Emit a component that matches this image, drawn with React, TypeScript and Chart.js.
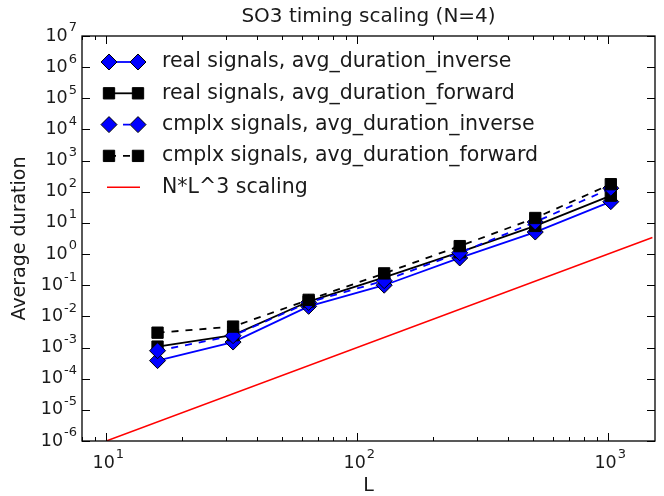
import React, { useEffect, useRef } from "react";
import { Chart, registerables } from "chart.js";
Chart.register(...registerables);

// ---- data ----
const L = [16, 32, 64, 128, 256, 512, 1024];
const realInverse = [3.8e-4, 1.5e-3, 0.021, 0.10, 0.75, 5.1, 48];
const realForward = [1.07e-3, 2.5e-3, 0.030, 0.18, 1.15, 8, 75];
const cmplxInverse = [7.9e-4, 2.4e-3, 0.028, 0.14, 1.1, 10.7, 130];
const cmplxForward = [3.0e-3, 4.7e-3, 0.034, 0.24, 1.8, 14.4, 175];
const scalingL = [10, 1500];
const scalingY = [1e-6, 3.4];
const seriesLabels = [
  "real signals, avg_duration_inverse",
  "real signals, avg_duration_forward",
  "cmplx signals, avg_duration_inverse",
  "cmplx signals, avg_duration_forward",
  "N*L^3 scaling",
];
const titleText = "SO3 timing scaling (N=4)";
const xLabel = "L";
const yLabel = "Average duration";
const xMajorExps = [1, 2, 3];
const yMajorExps = [-6, -5, -4, -3, -2, -1, 0, 1, 2, 3, 4, 5, 6, 7];
const xMinorMultipliers = [2, 3, 4, 5, 6, 7, 8, 9];

const FONT = "'DejaVu Sans', 'Bitstream Vera Sans', sans-serif";
const TEXT = "#1a1a1a";

function pts(ys: number[], xs: number[]) {
  return xs.map((x, i) => ({ x, y: ys[i] }));
}

function drawPow(ctx: CanvasRenderingContext2D, exp: number, x: number, y: number, align: "right" | "center") {
  const base = "10";
  const e = String(exp);
  ctx.font = `17.5px ${FONT}`;
  const wb = ctx.measureText(base).width;
  ctx.font = `13px ${FONT}`;
  const we = ctx.measureText(e).width;
  const total = wb + we + 1;
  const sx = align === "right" ? x - total : x - total / 2 + 2;
  ctx.textAlign = "left";
  ctx.textBaseline = "middle";
  ctx.fillStyle = TEXT;
  ctx.font = `17.5px ${FONT}`;
  ctx.fillText(base, sx, y);
  ctx.font = `13px ${FONT}`;
  ctx.fillText(e, sx + wb + 1, y - 8);
}

const decorPlugin = {
  id: "decor",
  afterDraw(chart: any) {
    const ctx: CanvasRenderingContext2D = chart.ctx;
    const { left, right, top, bottom } = chart.chartArea;
    const xs = chart.scales.x;
    const ys = chart.scales.y;
    ctx.save();
    // frame
    ctx.strokeStyle = "#000";
    ctx.lineWidth = 1.3;
    ctx.strokeRect(left, top, right - left, bottom - top);
    // ticks
    ctx.lineWidth = 1;
    ctx.beginPath();
    const xmin = xs.min, xmax = xs.max;
    for (let d = 0; d <= 3; d++) {
      const major = Math.pow(10, d);
      if (major >= xmin && major <= xmax) {
        const px = Math.round(xs.getPixelForValue(major)) + 0.5;
        ctx.moveTo(px, bottom); ctx.lineTo(px, bottom - 8);
        ctx.moveTo(px, top); ctx.lineTo(px, top + 8);
      }
      for (const m of xMinorMultipliers) {
        const v = m * major;
        if (v >= xmin && v <= xmax) {
          const px = Math.round(xs.getPixelForValue(v)) + 0.5;
          ctx.moveTo(px, bottom); ctx.lineTo(px, bottom - 4);
          ctx.moveTo(px, top); ctx.lineTo(px, top + 4);
        }
      }
    }
    for (const e of yMajorExps) {
      const py = Math.round(ys.getPixelForValue(Math.pow(10, e))) + 0.5;
      ctx.moveTo(left, py); ctx.lineTo(left + 8, py);
      ctx.moveTo(right, py); ctx.lineTo(right - 8, py);
    }
    ctx.stroke();
    // tick labels
    for (const e of xMajorExps) {
      const px = xs.getPixelForValue(Math.pow(10, e));
      drawPow(ctx, e, px, bottom + 22, "center");
    }
    for (const e of yMajorExps) {
      const py = ys.getPixelForValue(Math.pow(10, e));
      drawPow(ctx, e, left - 5, py, "right");
    }
    // title and axis labels
    ctx.fillStyle = TEXT;
    ctx.textAlign = "center";
    ctx.textBaseline = "middle";
    ctx.font = `20px ${FONT}`;
    ctx.fillText(titleText, (left + right) / 2, 17);
    ctx.font = `19px ${FONT}`;
    ctx.fillText(xLabel, (left + right) / 2, 486);
    ctx.save();
    ctx.translate(20, (top + bottom) / 2);
    ctx.rotate(-Math.PI / 2);
    ctx.fillText(yLabel, 0, 0);
    ctx.restore();
    // legend
    const dsets = chart.data.datasets;
    const x0 = 109, x1 = 138, tx = 162;
    for (let i = 0; i < dsets.length; i++) {
      const ds = dsets[i];
      const y = 62 + i * 31.3;
      ctx.save();
      ctx.strokeStyle = ds.borderColor;
      ctx.lineWidth = ds.borderWidth;
      ctx.setLineDash(ds.borderDash || []);
      ctx.beginPath();
      if (ds.pointRadius > 0) {
        ctx.moveTo(x0, y); ctx.lineTo(x1, y);
      } else {
        ctx.moveTo(x0 - 2, y); ctx.lineTo(x1 + 2, y);
      }
      ctx.stroke();
      ctx.setLineDash([]);
      if (ds.pointRadius > 0) {
        for (const px of [x0, x1]) {
          ctx.fillStyle = ds.pointBackgroundColor;
          ctx.strokeStyle = ds.pointBorderColor;
          ctx.lineWidth = ds.pointBorderWidth;
          const r = ds.pointRadius;
          ctx.beginPath();
          if (ds.pointStyle === "rectRot") {
            ctx.moveTo(px, y - r); ctx.lineTo(px + r, y); ctx.lineTo(px, y + r); ctx.lineTo(px - r, y); ctx.closePath();
          } else {
            const s = Math.SQRT1_2 * r;
            ctx.rect(px - s, y - s, 2 * s, 2 * s);
          }
          ctx.fill(); ctx.stroke();
        }
      }
      ctx.restore();
      ctx.fillStyle = TEXT;
      ctx.font = `20.5px ${FONT}`;
      ctx.textAlign = "left";
      ctx.textBaseline = "middle";
      ctx.fillText(ds.label, tx, y);
    }
    ctx.restore();
  },
};

export default function App() {
  const ref = useRef<HTMLCanvasElement>(null);
  useEffect(() => {
    document.body.style.margin = "0";
    const canvas = ref.current!;
    const common = { fill: false, tension: 0, borderWidth: 1.8, pointBorderColor: "#000", pointBorderWidth: 1, pointRadius: 8 };
    const chart = new Chart(canvas, {
      type: "line",
      data: {
        datasets: [
          { ...common, label: seriesLabels[0], data: pts(realInverse, L), borderColor: "#0000ff", backgroundColor: "#0000ff", pointBackgroundColor: "#0000ff", pointStyle: "rectRot", order: 4 },
          { ...common, label: seriesLabels[1], data: pts(realForward, L), borderColor: "#000000", backgroundColor: "#000000", pointBackgroundColor: "#000000", pointStyle: "rect", order: 3 },
          { ...common, label: seriesLabels[2], data: pts(cmplxInverse, L), borderColor: "#0000ff", backgroundColor: "#0000ff", pointBackgroundColor: "#0000ff", pointStyle: "rectRot", borderDash: [7, 7], order: 2 },
          { ...common, label: seriesLabels[3], data: pts(cmplxForward, L), borderColor: "#000000", backgroundColor: "#000000", pointBackgroundColor: "#000000", pointStyle: "rect", borderDash: [7, 7], order: 1 },
          { label: seriesLabels[4], data: pts(scalingY, scalingL), borderColor: "#ff0000", backgroundColor: "#ff0000", borderWidth: 1.5, pointRadius: 0, fill: false, order: 0 },
        ],
      } as any,
      options: {
        animation: false,
        responsive: false,
        events: [],
        layout: { padding: { left: 82, right: 1, top: 36, bottom: 55 } },
        scales: {
          x: { type: "logarithmic", min: 8, max: 1536, display: false },
          y: { type: "logarithmic", min: 1e-6, max: 1e7, display: false },
        },
        plugins: { legend: { display: false }, title: { display: false }, tooltip: { enabled: false } },
      } as any,
      plugins: [decorPlugin],
    });
    return () => chart.destroy();
  }, []);
  return <canvas ref={ref} width={664} height={496} style={{ display: "block" }} />;
}
